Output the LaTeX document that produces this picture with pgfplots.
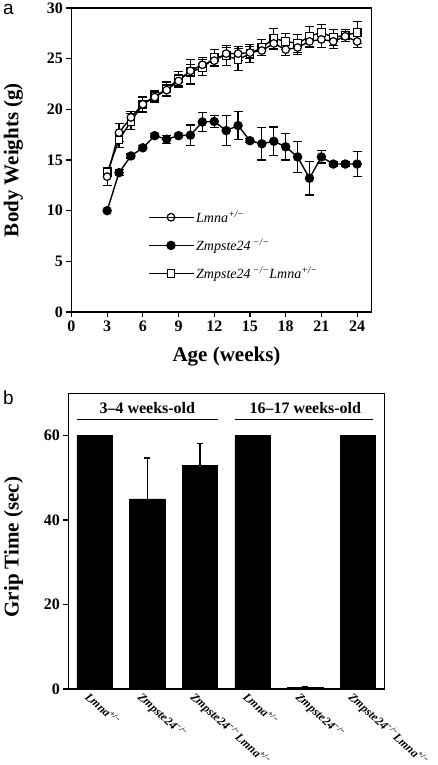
\documentclass[border=0pt]{standalone}
\usepackage{fontspec}
\setmainfont{Liberation Serif}
\newfontfamily\panelfont{Liberation Sans}
\usepackage{pgfplots}
\pgfplotsset{compat=1.18}
\newcommand{\hmin}{+/−}
\newcommand{\mm}{−/−}
\begin{document}
\begin{tikzpicture}
\useasboundingbox (0,0) rectangle (437pt,765pt);
\node[anchor=base west,inner sep=0pt] at (3pt,750pt) {\panelfont\fontsize{19}{19}\selectfont a};
\node[anchor=base west,inner sep=0pt] at (3pt,360pt) {\panelfont\fontsize{19}{19}\selectfont b};
% ---------------- panel a ----------------
\begin{axis}[
  at={(71.4pt,453pt)}, anchor=south west,
  scale only axis, width=300pt, height=304pt,
  xmin=0, xmax=25.2, ymin=0, ymax=30,
  xtick={0,3,...,24}, ytick={0,5,...,30},
  tick align=outside, xtick pos=bottom, ytick pos=left,
  major tick length=5pt,
  axis line style={line width=1.4pt},
  tick style={line width=1.2pt, black},
  /pgf/number format/assume math mode=true,
  tick label style={font=\fontsize{16}{16}\selectfont\bfseries},
  xlabel={Age (weeks)}, ylabel={Body Weights (g)},
  label style={font=\fontsize{21}{21}\selectfont\bfseries},
  xlabel style={at={(axis description cs:0.517,-0.146)}, anchor=center},
  ylabel style={at={(axis description cs:-0.193,0.5)}, anchor=center},
  legend style={draw=none, fill=none, at={(0.254,0.219)}, anchor=west,
    inner sep=0pt, row sep=11pt,
    font=\fontsize{14}{14}\selectfont\itshape},
  legend cell align=left,
  legend image code/.code={\draw[mark repeat=2,mark phase=2] plot coordinates {(0pt,0pt) (22.5pt,0pt) (45pt,0pt)};},
  error bars/error bar style={line width=1.2pt, black, solid},
  error bars/error mark options={rotate=90, mark size=4.5pt, line width=1.2pt, black},
]
\addlegendimage{black, line width=1.4pt, mark=o, mark size=3.8pt, mark options={fill=white, line width=1.2pt}}
\addlegendentry{Lmna\textsuperscript{\hmin}}
\addlegendimage{black, line width=1.4pt, mark=*, mark size=4pt, mark options={fill=black}}
\addlegendentry{Zmpste24\,\textsuperscript{\mm}}
\addlegendimage{black, line width=1.4pt, mark=square*, mark size=3.8pt, mark options={fill=white, line width=1.2pt}}
\addlegendentry{Zmpste24\,\textsuperscript{\mm}Lmna\textsuperscript{\hmin}}
% Zmpste24 -/-
\addplot[black, line width=1.4pt, mark=*, mark size=4pt, mark options={fill=black, solid}, forget plot,
  error bars/.cd, y dir=both, y explicit]
 table[x=x, y=y, y error=e] {
x y e
3 10.0 0
4 13.75 0.3
5 15.4 0.2
6 16.2 0.2
7 17.4 0.2
8 17.05 0.4
9 17.4 0.2
10 17.45 1.0
11 18.75 0.9
12 18.8 0.6
13 17.9 1.5
14 18.4 1.4
15 16.9 0.2
16 16.6 1.6
17 16.85 1.4
18 16.3 1.3
19 15.3 1.5
20 13.2 1.65
21 15.3 0.6
22 14.6 0.2
23 14.6 0.2
24 14.6 1.2
};
% Zmpste24 -/- Lmna +/-
\addplot[black, line width=1.4pt, mark=square*, mark size=3.8pt, mark options={fill=white, solid, line width=1.2pt}, forget plot,
  error bars/.cd, y dir=both, y explicit]
 table[x=x, y=y, y error=e] {
x y e
3 13.75 0.4
4 17.0 0.8
5 18.8 0.8
6 20.5 0.8
7 21.3 0.5
8 22.0 0.7
9 23.0 0.7
10 23.7 1.2
11 24.1 0.8
12 25.1 0.8
13 25.3 1.0
14 24.9 1.1
15 25.5 0.9
16 26.1 0.8
17 27.0 1.0
18 26.7 0.8
19 26.5 0.9
20 27.2 1.0
21 27.6 0.8
22 27.1 0.8
23 27.3 0.6
24 27.6 1.1
};
% Lmna +/-
\addplot[black, line width=1.4pt, mark=*, mark size=3.8pt, mark options={fill=white, solid, line width=1.2pt}, forget plot,
  error bars/.cd, y dir=both, y explicit]
 table[x=x, y=y, y error=e] {
x y e
3 13.36 0.9
4 17.7 0.9
5 19.2 0.6
6 20.5 0.7
7 21.2 0.5
8 21.9 0.5
9 22.8 0.6
10 23.8 0.6
11 24.4 0.7
12 24.8 0.6
13 25.5 0.6
14 25.5 0.7
15 25.6 0.6
16 25.8 0.5
17 26.5 0.6
18 25.9 0.6
19 26.1 0.7
20 26.7 0.6
21 26.9 0.8
22 26.7 0.7
23 27.2 0.5
24 26.7 0.6
};
\end{axis}
% ---------------- panel b ----------------
\begin{axis}[
  at={(68.3pt,76pt)}, anchor=south west,
  scale only axis, width=316pt, height=295.7pt,
  xmin=0.5, xmax=6.5, ymin=0, ymax=70,
  xtick=data,
  xticklabels={
    Lmna\textsuperscript{\hmin},
    Zmpste24\textsuperscript{\mm},
    Zmpste24\textsuperscript{\mm}Lmna\textsuperscript{\hmin},
    Lmna\textsuperscript{\hmin},
    Zmpste24\textsuperscript{\mm},
    Zmpste24\textsuperscript{\mm}Lmna\textsuperscript{\hmin}},
  ytick={0,20,40,60},
  tick align=outside, ytick pos=left, xtick style={draw=none},
  major tick length=5pt,
  axis line style={line width=1.4pt},
  tick style={line width=1.2pt, black},
  /pgf/number format/assume math mode=true,
  yticklabel style={font=\fontsize{16}{16}\selectfont\bfseries},
  xticklabel style={font=\fontsize{12}{12}\selectfont\bfseries\itshape, rotate=-42, anchor=north west, inner sep=1pt, xshift=-6pt, yshift=1pt},
  ylabel={Grip Time (sec)},
  label style={font=\fontsize{21}{21}\selectfont\bfseries},
  ylabel style={at={(axis description cs:-0.173,0.48)}, anchor=center},
]
\addplot[ybar, bar width=35.3pt, fill=black, draw=black,
  error bars/.cd, y dir=plus, y explicit,
  error bar style={line width=1.2pt},
  error mark options={rotate=90, mark size=3pt, line width=1.2pt}]
 table[x=x, y=y, y error=e] {
x y e
1 60 0
2 45 9.7
3 53 5.1
4 60 0
5 0.4 0.1
6 60 0
};
\draw[line width=1.2pt] (axis cs:0.665,63.75) -- (axis cs:3.34,63.75);
\draw[line width=1.2pt] (axis cs:3.67,63.75) -- (axis cs:6.28,63.75);
\node[font=\fontsize{16}{16}\selectfont\bfseries] at (axis cs:2,66.6) {3–4 weeks-old};
\node[font=\fontsize{16}{16}\selectfont\bfseries] at (axis cs:5,66.6) {16–17 weeks-old};
\end{axis}
\end{tikzpicture}
\end{document}
